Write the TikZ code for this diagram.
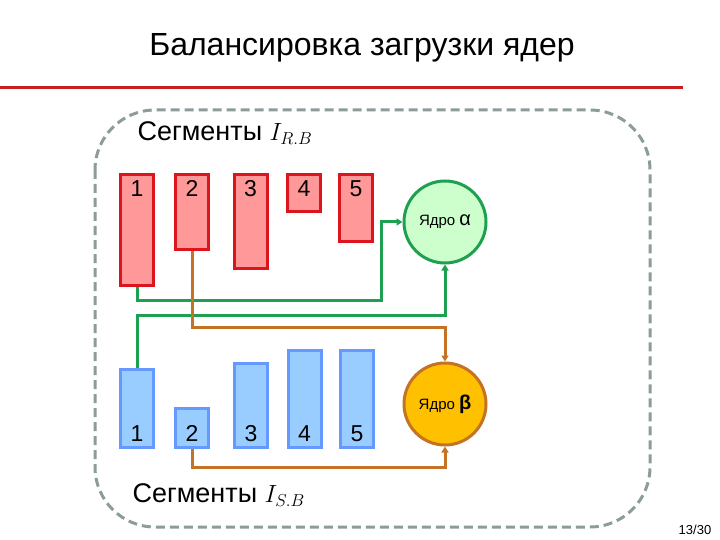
\documentclass[tikz,border=0pt]{standalone}
\usepackage{fontspec}
\setmainfont{Liberation Sans}
\usetikzlibrary{arrows.meta}

\definecolor{segred}{RGB}{255,153,153}
\definecolor{segreddraw}{RGB}{220,20,30}
\definecolor{segblue}{RGB}{153,204,255}
\definecolor{segbluedraw}{RGB}{102,153,255}
\definecolor{corealpha}{RGB}{204,255,204}
\definecolor{linkgreen}{RGB}{30,160,80}
\definecolor{corebeta}{RGB}{255,192,0}
\definecolor{linkbrown}{RGB}{195,115,35}
\definecolor{framegray}{RGB}{140,155,155}
\definecolor{titlered}{RGB}{200,30,30}

\tikzset{
  digit/.style={font=\fontsize{23}{25}\selectfont,inner sep=0pt},
  segR/.style={draw=segreddraw,fill=segred,line width=3pt,minimum width=33pt,anchor=north,inner sep=0pt},
  segS/.style={draw=segbluedraw,fill=segblue,line width=3pt,minimum width=33pt,anchor=south,inner sep=0pt},
  core/.style={circle,line width=3pt,minimum size=82pt,inner sep=0pt,font=\fontsize{15}{17}\selectfont},
  greek/.style={font=\fontsize{21}{21}\selectfont\bfseries},
  link/.style={line width=3pt,-{Triangle[length=6pt,width=7pt]}},
}

\begin{document}
\begin{tikzpicture}[x=1pt,y=-1pt]
\useasboundingbox (0,0) rectangle (720,540);
% title
\node (title) at (362,48) {\fontsize{32}{36}\selectfont Балансировка загрузки ядер};
\draw[titlered,line width=3pt] (0,88) -- (683,88);
% frame
\draw[framegray,line width=3pt,dash pattern=on 9pt off 5pt,rounded corners=60pt] (95,110) rectangle (650,527);
\node[anchor=west,font=\fontsize{27}{30}\selectfont] (segRtxt) at (134,133) {Сегменты $I_{R.B}$};
\node[anchor=west,font=\fontsize{27}{30}\selectfont] (segStxt) at (129,495) {Сегменты $I_{S.B}$};
% segments
\foreach \n/\x/\h in {1/137/111,2/192/75,3/250.5/94,4/304/37,5/356/67}
  \node[segR,minimum height=\h pt,label={[digit,anchor=north,yshift=-7pt]north:\n}] (r\n) at (\x,173) {};
\foreach \n/\x/\h in {1/137/78,2/192/39,3/251/84,4/304.5/97,5/357/97}
  \node[segS,minimum height=\h pt,label={[digit,anchor=south,yshift=7pt]south:\n}] (s\n) at (\x,449) {};
% cores
\node[core,draw=linkgreen,fill=corealpha] (alpha) at (445,222) {Ядро {\fontsize{20}{20}\selectfont α}};
\node[core,draw=linkbrown,fill=corebeta] (beta) at (445,404) {Ядро {\fontsize{20}{20}\selectfont\bfseries β}};
% links
\draw[link,linkgreen] (r1.south) |- (381,300) |- (alpha.west);
\draw[link,linkgreen] (s1.north) -- (s1.north |- 0,315) -| (alpha.south);
\draw[link,linkbrown] (r2.south) -- (r2.south |- 0,327) -| (beta.north);
\draw[link,linkbrown] (s2.south) -- (s2.south |- 0,467) -| (beta.south);
\node (page) at (695,530) {\fontsize{13}{15}\selectfont 13/30};
\end{tikzpicture}
\end{document}
